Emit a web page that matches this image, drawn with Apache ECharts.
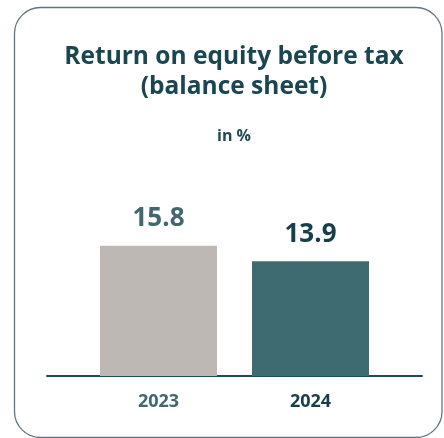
<!DOCTYPE html>
<html>
<head>
<meta charset="utf-8">
<script src="https://cdn.jsdelivr.net/npm/echarts@6/dist/echarts.min.js"></script>
<style>
  html, body { margin: 0; padding: 0; background: #ffffff; }
  #chart { width: 444px; height: 438px; }
</style>
</head>
<body>
<div id="chart"></div>
<script>
// Return on equity before tax, in %
const years = ['2023', '2024'];
const roeValues = [15.8, 13.9];

const barColors = ['#bdb8b4', '#3e6a71'];
const labelColors = ['#41686f', '#173f49'];
const FONT = '"Open Sans", "Noto Sans", sans-serif';

const chart = echarts.init(document.getElementById('chart'), null, { renderer: 'canvas' });

chart.setOption({
  backgroundColor: '#ffffff',
  animation: false,
  title: {
    text: 'Return on equity before tax\n(balance sheet)',
    subtext: 'in %',
    left: 229,
    textAlign: 'center',
    top: 37,
    itemGap: 26,
    textStyle: {
      fontFamily: FONT,
      fontSize: 24.5,
      fontWeight: 'bold',
      color: '#1a4650',
      lineHeight: 30
    },
    subtextStyle: {
      fontFamily: FONT,
      fontSize: 16,
      fontWeight: 'bold',
      color: '#1f4a54'
    }
  },
  graphic: [{
    type: 'rect',
    shape: { x: 14.5, y: 7.5, width: 427.5, height: 430, r: 26 },
    style: { fill: 'none', stroke: '#5f777c', lineWidth: 1.3 },
    silent: true
  }],
  grid: [
    { left: 82.5, right: 57.5, top: 211, bottom: 62 },
    { left: 47, right: 22, top: 211, bottom: 62 }
  ],
  xAxis: [
    {
      type: 'category',
      gridIndex: 0,
      data: years,
      axisLine: { show: false },
      axisTick: { show: false },
      axisLabel: {
        margin: 17,
        fontFamily: FONT,
        fontSize: 18,
        fontWeight: 'bold',
        color: function (v, i) { return labelColors[i]; }
      }
    },
    {
      type: 'value',
      gridIndex: 1,
      min: 0,
      max: 1,
      axisLine: { show: true, onZero: false, lineStyle: { color: '#1f4a54', width: 2 } },
      axisTick: { show: false },
      axisLabel: { show: false },
      splitLine: { show: false }
    }
  ],
  yAxis: [
    { type: 'value', gridIndex: 0, min: 0, max: 20, show: false },
    { type: 'value', gridIndex: 1, min: 0, max: 1, show: false }
  ],
  series: [{
    type: 'bar',
    xAxisIndex: 0,
    yAxisIndex: 0,
    barWidth: 117,
    data: roeValues.map(function (v, i) {
      return {
        value: v,
        itemStyle: { color: barColors[i] },
        label: { color: labelColors[i] }
      };
    }),
    label: {
      show: true,
      position: 'top',
      distance: 14,
      fontFamily: FONT,
      fontSize: 26,
      fontWeight: 'bold',
      formatter: function (p) { return p.value.toFixed(1); }
    }
  }]
});
</script>
</body>
</html>
